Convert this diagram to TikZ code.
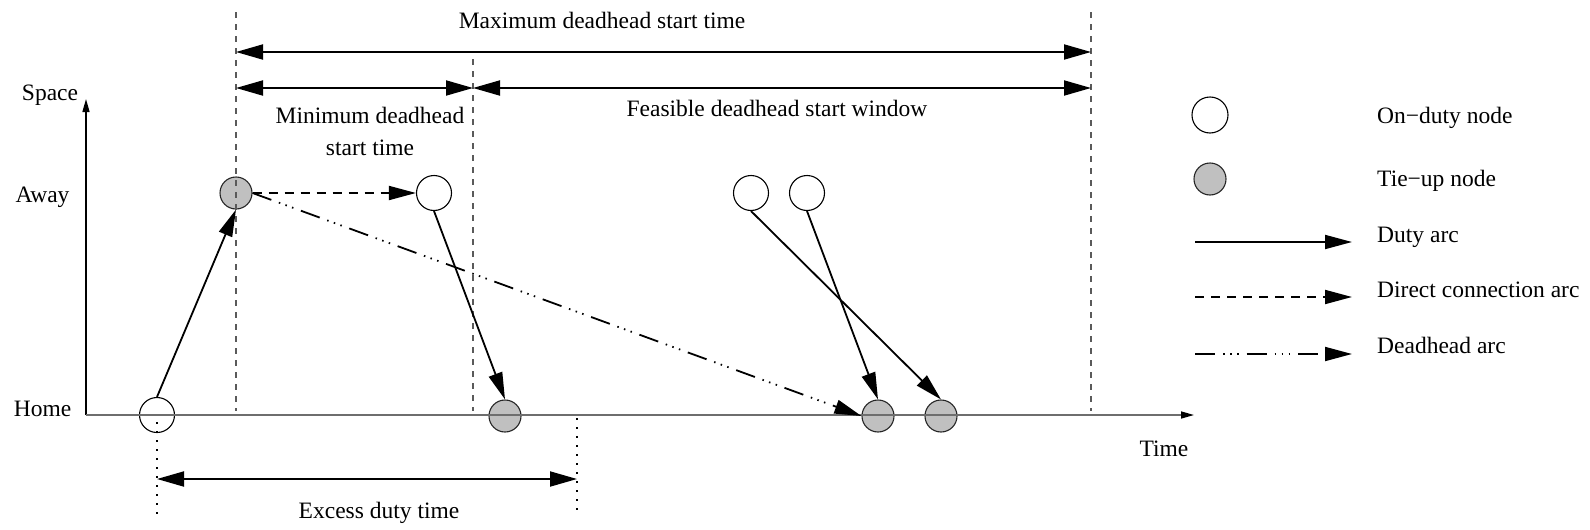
\documentclass[tikz,border=0pt]{standalone}
\usepackage{fontspec}
\setmainfont{Liberation Serif}
\usetikzlibrary{arrows.meta}
\definecolor{tiegray}{RGB}{192,192,192}
\definecolor{guide}{RGB}{90,90,90}
\definecolor{axisgray}{RGB}{110,110,110}

\begin{document}
\begin{tikzpicture}[x=1pt,y=-1pt,
  lbl/.style={font=\fontsize{23.5}{28}\selectfont, inner sep=0pt, anchor=base},
  lgtxt/.style={lbl, anchor=base west},
  onduty/.style={circle, draw=black, line width=1.1pt, fill=white, minimum size=35pt, inner sep=0pt},
  tieup/.style={circle, draw=black!85, line width=1.1pt, fill=tiegray, minimum size=32pt, inner sep=0pt},
  bigtip/.style={-{Triangle[length=27pt,width=14pt]}},
  dimarrow/.style={{Triangle[length=27pt,width=15pt]}-{Triangle[length=27pt,width=15pt]}, line width=1.9pt},
  dutyarc/.style={line width=1.8pt, bigtip},
  directarc/.style={dutyarc, dash pattern=on 9pt off 7pt},
  deadarc/.style={dutyarc, dash pattern=on 20pt off 8pt on 1.5pt off 5.5pt on 1.5pt off 5.5pt on 1.5pt off 8pt},
  guideline/.style={draw=guide, line width=1.3pt, dash pattern=on 6pt off 6pt},
  dotline/.style={line width=1.6pt, dash pattern=on 1.6pt off 7.4pt},
  axistip/.style={-{Triangle[length=13pt,width=7pt,color=black]}},
]
\useasboundingbox (0,0) rectangle (1590,530);

% ---- nodes of the time-space network
\node[onduty] (h1) at (157,415) {};
\node[tieup]  (a1) at (236,193) {};
\node[onduty] (a2) at (434,193) {};
\node[tieup]  (h2) at (505,416) {};
\node[onduty] (a3) at (751,193) {};
\node[onduty] (a4) at (807,193) {};
\node[tieup]  (h3) at (878,416) {};
\node[tieup]  (h4) at (941,416) {};

% ---- axes
\coordinate (origin) at (86,415);
\coordinate (yend) at (86,99);
\coordinate (xend) at (1194,415);
\draw[line width=1.3pt, axistip] (origin) -- (yend);
\draw[axisgray, line width=1.5pt, axistip] (origin) -- (xend);

% ---- vertical guide lines
\coordinate (g1t) at (236,12);   \coordinate (g1b) at (236,411);
\coordinate (g2t) at (473,59);   \coordinate (g2b) at (473,411);
\coordinate (g3t) at (1091,12);  \coordinate (g3b) at (1091,411);
\draw[guideline] (g1t) -- (g1b);
\draw[guideline] (g2t) -- (g2b);
\draw[guideline] (g3t) -- (g3b);

% ---- time spans
\coordinate (mx1) at (236,52);  \coordinate (mx2) at (1091,52);
\coordinate (mn1) at (236,88);  \coordinate (mn2) at (473,88);
\coordinate (fs2) at (1091,88);
\draw[dimarrow] (mx1) -- (mx2);
\draw[dimarrow] (mn1) -- (mn2);
\draw[dimarrow] (mn2) -- (fs2);

\coordinate (ex1t) at (157,422); \coordinate (ex1b) at (157,519);
\coordinate (ex2t) at (577,418); \coordinate (ex2b) at (577,515);
\coordinate (ex1) at (157,479);  \coordinate (ex2) at (577,479);
\draw[dotline] (ex1t) -- (ex1b);
\draw[dotline] (ex2t) -- (ex2b);
\draw[dimarrow] (ex1) -- (ex2);

% ---- arcs
\draw[dutyarc] (h1.north) -- (a1.south);
\draw[dutyarc] (a2.south) -- (h2.north);
\draw[dutyarc] (a3.south) -- (h4.north);
\draw[dutyarc] (a4.south) -- (h3.north);
\draw[directarc] (a1.east) -- (a2.west);
\draw[deadarc] (a1.east) -- (h3.west);

% ---- labels
\node[lbl] (tmax)   at (602,28)   {Maximum deadhead start time};
\node[lbl] (tmin1)  at (370,123)  {Minimum deadhead};
\node[lbl] (tmin2)  at (370,155)  {start time};
\node[lbl] (tfeas)  at (777,116)  {Feasible deadhead start window};
\node[lbl] (tspace) at (50,100)   {Space};
\node[lbl] (taway)  at (42.5,202) {Away};
\node[lbl] (thome)  at (42.5,416) {Home};
\node[lbl] (ttime)  at (1164,456) {Time};
\node[lbl] (texc)   at (379,518)  {Excess duty time};

% ---- legend
\node[onduty, minimum size=36pt] (lg1) at (1210,115) {};
\node[tieup] (lg2) at (1210,179) {};
\coordinate (ld1) at (1195,242); \coordinate (ld2) at (1352,242);
\coordinate (lc1) at (1195,297); \coordinate (lc2) at (1352,297);
\coordinate (lh1) at (1195,354); \coordinate (lh2) at (1352,354);
\draw[dutyarc] (ld1) -- (ld2);
\draw[directarc] (lc1) -- (lc2);
\draw[deadarc] (lh1) -- (lh2);
\node[lgtxt] (lt1) at (1377,123) {On−duty node};
\node[lgtxt] (lt2) at (1377,186) {Tie−up node};
\node[lgtxt] (lt3) at (1377,242) {Duty arc};
\node[lgtxt] (lt4) at (1377,297) {Direct connection arc};
\node[lgtxt] (lt5) at (1377,353) {Deadhead arc};
\end{tikzpicture}
\end{document}
